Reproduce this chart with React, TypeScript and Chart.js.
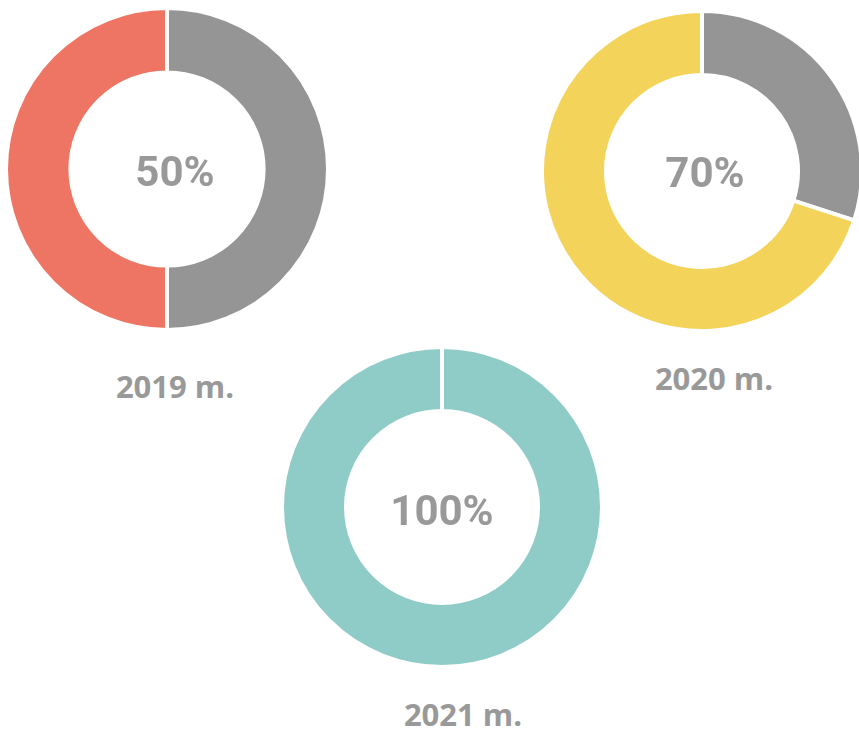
import React, { useEffect, useRef } from "react";
import { Chart, registerables } from "chart.js";

Chart.register(...registerables);

const years = ["2019 m.", "2020 m.", "2021 m."];
const percents = [50, 70, 100];
const segmentLabels = ["Likutis", "Įvykdyta"];
const restValues = [50, 30, 0];
const doneValues = [50, 70, 100];
const doneColors = ["#EE7563", "#F3D35A", "#8FCCC8"];
const restColor = "#959595";

type Spec = {
  idx: number;
  size: number;
  cx: number;
  cy: number;
  tx: number;
  ty: number;
  lx: number;
  ly: number;
};

const specs: Spec[] = [
  { idx: 0, size: 326, cx: 167, cy: 169, tx: 175, ty: 172, lx: 175, ly: 386 },
  { idx: 1, size: 324, cx: 702, cy: 171, tx: 705, ty: 173, lx: 714, ly: 378 },
  { idx: 2, size: 324, cx: 442, cy: 507, tx: 442, ty: 511, lx: 463, ly: 714 },
];

function Donut({ spec }: { spec: Spec }) {
  const ref = useRef<HTMLCanvasElement | null>(null);
  useEffect(() => {
    if (!ref.current) return;
    const i = spec.idx;
    const chart = new Chart(ref.current, {
      type: "doughnut",
      data: {
        labels: segmentLabels,
        datasets: [
          {
            data: [restValues[i], doneValues[i]],
            backgroundColor: [restColor, doneColors[i]],
            borderColor: "#ffffff",
            borderWidth: 4,
          },
        ],
      },
      options: {
        responsive: false,
        animation: false,
        cutout: "60%",
        layout: { padding: 0 },
        plugins: {
          legend: { display: false },
          tooltip: { enabled: false },
        },
      },
    });
    return () => chart.destroy();
  }, [spec]);
  return (
    <canvas
      ref={ref}
      width={spec.size}
      height={spec.size}
      style={{
        position: "absolute",
        left: spec.cx - spec.size / 2,
        top: spec.cy - spec.size / 2,
        width: spec.size,
        height: spec.size,
      }}
    />
  );
}

export default function App() {
  return (
    <div
      style={{
        position: "fixed",
        left: 0,
        top: 0,
        width: 859,
        height: 729,
        overflow: "hidden",
        background: "#ffffff",
      }}
    >
      {specs.map((s) => (
        <React.Fragment key={s.idx}>
          <Donut spec={s} />
          <div
            style={{
              position: "absolute",
              left: s.tx,
              top: s.ty,
              transform: "translate(-50%, -50%)",
              font: "bold 42px Roboto, sans-serif",
              lineHeight: 1,
              color: "#999999",
              whiteSpace: "nowrap",
            }}
          >
            {percents[s.idx]}%
          </div>
          <div
            style={{
              position: "absolute",
              left: s.lx,
              top: s.ly,
              transform: "translate(-50%, -50%)",
              font: "bold 31px 'Open Sans', sans-serif",
              lineHeight: 1,
              color: "#999999",
              whiteSpace: "nowrap",
            }}
          >
            {years[s.idx]}
          </div>
        </React.Fragment>
      ))}
    </div>
  );
}
